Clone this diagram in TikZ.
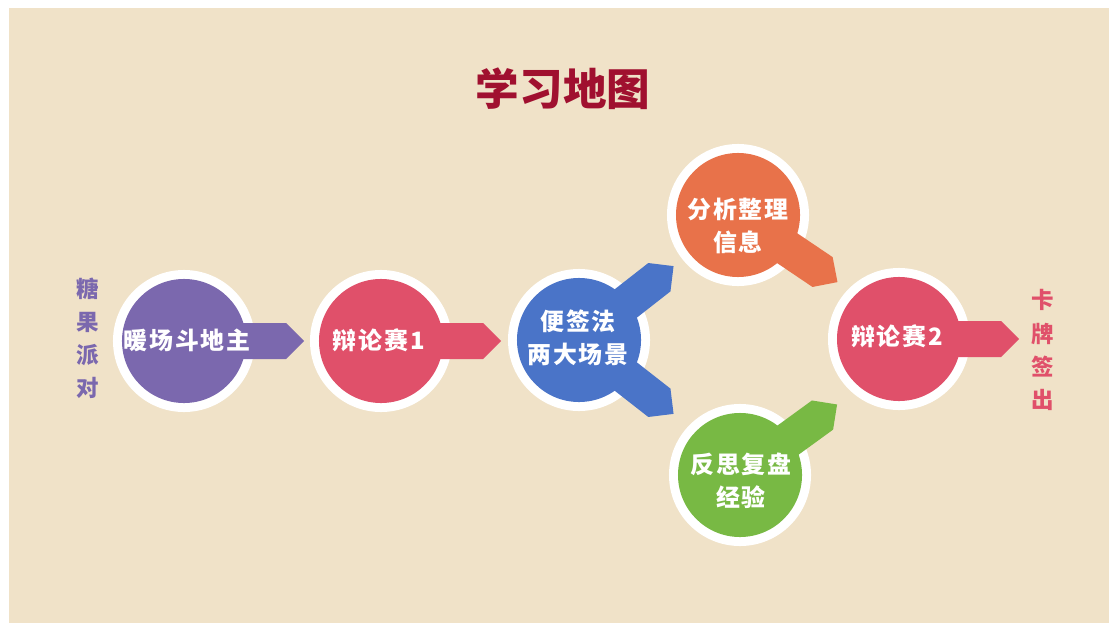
\documentclass[tikz,border=0pt]{standalone}
\usepackage{fontspec}
\newfontfamily\cjk{Noto Sans CJK SC}
\newfontfamily\cjkwide{Noto Sans CJK SC}[LetterSpace=8]
\usetikzlibrary{positioning,calc}

\definecolor{bgbeige}{HTML}{F0E2C8}
\definecolor{mapred}{HTML}{A0102F}
\definecolor{grape}{HTML}{7B68AE}
\definecolor{rose}{HTML}{E0506A}
\definecolor{ocean}{HTML}{4A74C8}
\definecolor{carrot}{HTML}{E8724A}
\definecolor{leaf}{HTML}{78B944}

\tikzset{
  arm/.pic={\fill (0,-18) -- (102,-18) -- (120,0) -- (102,18) -- (0,18) -- cycle;}
}

\begin{document}
\begin{tikzpicture}[x=0.025cm, y=-0.025cm,
    ring/.style={circle, fill=white, inner sep=0pt, minimum size=3.55cm},
    disc/.style={circle, inner sep=0pt, minimum size=3.1cm},
    lbl/.style={text=white, font=\cjkwide\bfseries\fontsize{17}{23.5}\selectfont, align=center},
    side/.style={font=\cjk\bfseries\fontsize{16}{23.5}\selectfont, align=center}]

    \useasboundingbox (0,0) rectangle (1109,623);
    \fill[white] (0,0) rectangle (1109,623);
    \fill[bgbeige] (9,8) rectangle (1109,623);

    \node[text=mapred, font=\cjk\bfseries\fontsize{31}{36}\selectfont] (title) at (563,89) {学习地图};

    \node[side, text=grape] (candy) at (88,338) {糖\\果\\派\\对};
    \node[side, text=rose] (cards) at (1043,350) {卡\\牌\\签\\出};

    % warm-up
    \node[ring] (c1) at (184,341) {};
    \pic[color=grape] at (c1) {arm};
    \node[disc, fill=grape] (d1) at (c1) {};
    \node[lbl] (t1) at (187,340) {暖场斗地主};

    % debate 1
    \node[ring] (c2) at (381,341) {};
    \pic[color=rose] at (c2) {arm};
    \node[disc, fill=rose] (d2) at (c2) {};
    \node[lbl] (t2) at (379,340) {辩论赛1};

    % sticky notes
    \node[ring] (c3) at (579,340) {};
    \pic[color=ocean, rotate=38] at (c3) {arm};
    \pic[color=ocean, rotate=-38] at (c3) {arm};
    \node[disc, fill=ocean] (d3) at (c3) {};
    \node[lbl] (t3) at (578,338) {便签法\\两大场景};

    % analyse
    \node[ring] (c4) at (738,215) {};
    \pic[color=carrot, rotate=-34] at (c4) {arm};
    \node[disc, fill=carrot] (d4) at (c4) {};
    \node[lbl] (t4) at (738,226) {分析整理\\信息};

    % reflect
    \node[ring] (c5) at (740,475) {};
    \pic[color=leaf, rotate=36] at (c5) {arm};
    \node[disc, fill=leaf] (d5) at (c5) {};
    \node[lbl] (t5) at (741,481) {反思复盘\\经验};

    % debate 2
    \node[ring] (c6) at (899,339) {};
    \pic[color=rose] at (c6) {arm};
    \node[disc, fill=rose] (d6) at (c6) {};
    \node[lbl] (t6) at (897,336) {辩论赛2};

\end{tikzpicture}
\end{document}
